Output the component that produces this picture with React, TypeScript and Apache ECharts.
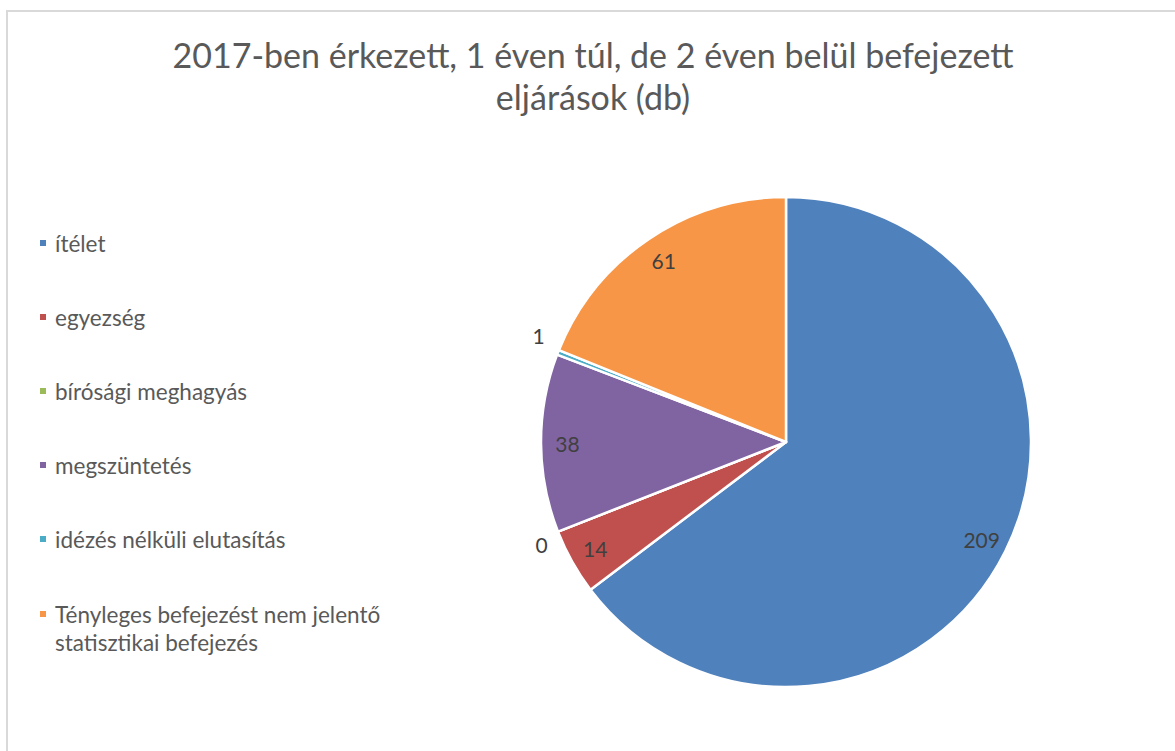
import React, { useEffect, useRef } from "react";
import * as echarts from "echarts";

const titleText = "2017-ben érkezett, 1 éven túl, de 2 éven belül befejezett\neljárások (db)";
const categories = [
  "ítélet",
  "egyezség",
  "bírósági meghagyás",
  "megszüntetés",
  "idézés nélküli elutasítás",
  "Tényleges befejezést nem jelentő statisztikai befejezés",
];
const values = [209, 14, 0, 38, 1, 61];
const colors = ["#4F81BD", "#C0504D", "#9BBB59", "#8064A2", "#4BACC6", "#F79646"];
const outsideLabelIdx = [2, 4];

const FONT = "Lato, 'Noto Sans', sans-serif";

export default function App() {
  const ref = useRef<HTMLDivElement>(null);
  useEffect(() => {
    if (!ref.current) return;
    const chart = echarts.init(ref.current, undefined, { renderer: "svg" });
    const center = [786, 442];
    const R = 245;
    const outsideOffsets: Record<number, number[]> = { 2: [3, 8], 4: [0, -12] };
    const mainData = categories.map((name, i) => ({
      name,
      value: values[i],
      itemStyle: { color: colors[i] },
      label: { show: outsideLabelIdx.includes(i), offset: outsideOffsets[i] || [0, 0] },
    }));
    const ghostData = categories.map((name, i) => ({
      name,
      value: values[i],
      label: { show: !outsideLabelIdx.includes(i) },
    }));
    chart.setOption({
      animation: false,
      title: {
        text: titleText,
        left: "center",
        top: 28,
        textStyle: {
          fontFamily: FONT,
          fontSize: 34,
          fontWeight: "normal",
          color: "#595959",
          lineHeight: 42,
        },
      },
      legend: [
        {
          orient: "vertical",
          left: 38,
          top: 229,
          padding: 0,
          itemWidth: 8,
          itemHeight: 8,
          itemGap: 46,
          icon: "rect",
          selectedMode: false,
          data: categories.slice(0, 5),
          textStyle: {
            fontFamily: FONT,
            fontSize: 22.5,
            color: "#595959",
            lineHeight: 28,
            padding: [0, 0, 0, 3],
          },
        },
        {
          orient: "vertical",
          left: 38,
          top: 572,
          padding: 0,
          itemWidth: 8,
          itemHeight: 8,
          icon: "rect",
          selectedMode: false,
          data: categories.slice(5),
          formatter: (n: string) => "\n" + n.replace("jelentő ", "jelentő\n"),
          textStyle: {
            fontFamily: FONT,
            fontSize: 22.5,
            color: "#595959",
            lineHeight: 28,
            padding: [0, 0, 0, 3],
          },
        },
      ],
      graphic: [
        {
          type: "rect",
          shape: { x: 7, y: 11, width: 1400, height: 1000 },
          style: { fill: "none", stroke: "#d9d9d9", lineWidth: 2 },
          silent: true,
        },
      ],
      series: [
        {
          type: "pie",
          center,
          radius: [0, R],
          startAngle: 90,
          clockwise: true,
          avoidLabelOverlap: false,
          silent: true,
          itemStyle: { borderColor: "#ffffff", borderWidth: 2.5 },
          label: {
            position: "outside",
            formatter: "{c}",
            color: "#404040",
            fontFamily: FONT,
            fontSize: 21,
            distanceToLabelLine: 2,
          },
          labelLine: { show: false, length: 12, length2: 0 },
          emphasis: { disabled: true },
          data: mainData,
        },
        {
          type: "pie",
          center,
          radius: [0, R * 1.76],
          startAngle: 90,
          clockwise: true,
          avoidLabelOverlap: false,
          silent: true,
          legendHoverLink: false,
          itemStyle: { color: "rgba(0,0,0,0)", borderWidth: 0 },
          label: {
            position: "inside",
            formatter: "{c}",
            color: "#404040",
            fontFamily: FONT,
            fontSize: 21,
          },
          labelLine: { show: false },
          emphasis: { disabled: true },
          data: ghostData,
        },
      ],
    });
    return () => chart.dispose();
  }, []);
  return (
    <div style={{ position: "fixed", left: 0, top: 0, width: 1175, height: 751, overflow: "hidden", background: "#fff" }}>
      <div ref={ref} style={{ width: 1186, height: 751 }} />
    </div>
  );
}
